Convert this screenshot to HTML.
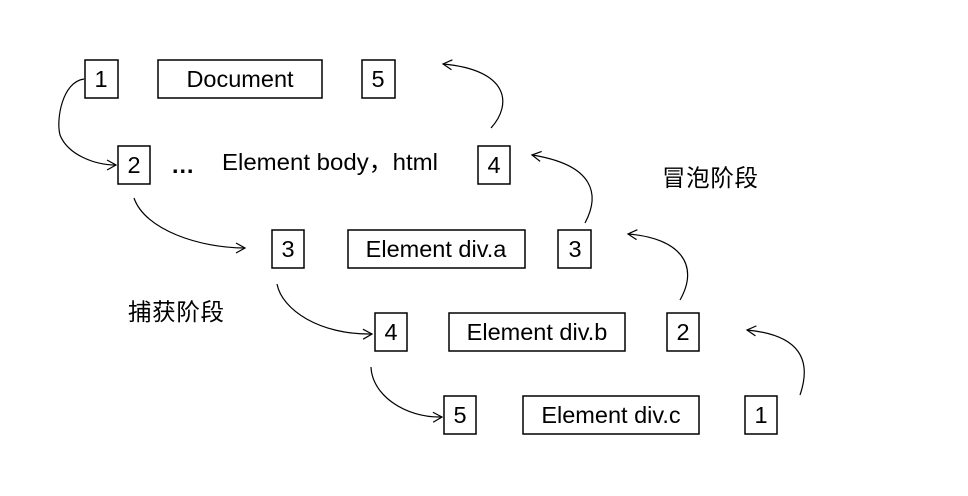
<!DOCTYPE html>
<html><head><meta charset="utf-8"><style>
body{margin:0;background:#fff;}
svg text{font-family:"Liberation Sans","Noto Sans CJK SC",sans-serif;font-size:23.5px;fill:#000;}
</style></head><body>
<svg width="968" height="491" viewBox="0 0 968 491" xmlns="http://www.w3.org/2000/svg">
<defs><marker id="a" markerWidth="12" markerHeight="12" refX="10" refY="6" orient="auto" markerUnits="userSpaceOnUse"><path d="M1,1 L10,6 L1,11" fill="none" stroke="#000" stroke-width="1.2"/></marker></defs>
<g fill="none" stroke="#000" stroke-width="1.5">
<rect x="85" y="60" width="33" height="38"/>
<rect x="158" y="60" width="164" height="38"/>
<rect x="362" y="60" width="33" height="38"/>
<rect x="118" y="146" width="32" height="38"/>
<rect x="478" y="146" width="32" height="38"/>
<rect x="272" y="230" width="32" height="38"/>
<rect x="348" y="230" width="177" height="38"/>
<rect x="558" y="230" width="33" height="38"/>
<rect x="375" y="313" width="32" height="38"/>
<rect x="449" y="313" width="176" height="38"/>
<rect x="667" y="313" width="32" height="38"/>
<rect x="444" y="396" width="32" height="38"/>
<rect x="523" y="396" width="176" height="38"/>
<rect x="745" y="396" width="32" height="38"/>
</g>
<g fill="none" stroke="#000" stroke-width="1.2" marker-end="url(#a)">
<path d="M84,79 C62,82 56,120 60,135 C68,155 95,165 116,165"/>
<path d="M134,198 C145,230 200,248 245,248"/>
<path d="M277,284 C282,310 320,335 372,334"/>
<path d="M371,367 C372,395 405,418 442,417"/>
<path d="M800,395 C812,360 800,335 747,330"/>
<path d="M680,300 C700,265 680,238 628,234"/>
<path d="M585,223 C600,195 595,165 532,155"/>
<path d="M491,128 C512,105 510,70 443,64"/>
</g>
<text x="101" y="87" text-anchor="middle">1</text>
<text x="240" y="87" text-anchor="middle">Document</text>
<text x="378" y="87" text-anchor="middle">5</text>
<text x="134" y="173" text-anchor="middle">2</text>
<text x="171" y="173" style="font-weight:bold">…</text>
<text x="222" y="170" textLength="216" lengthAdjust="spacingAndGlyphs">Element body，html</text>
<text x="494" y="173" text-anchor="middle">4</text>
<text x="662" y="186" textLength="96">冒泡阶段</text>
<text x="288" y="257" text-anchor="middle">3</text>
<text x="436" y="257" text-anchor="middle">Element div.a</text>
<text x="575" y="257" text-anchor="middle">3</text>
<text x="128" y="320" textLength="96">捕获阶段</text>
<text x="391" y="340" text-anchor="middle">4</text>
<text x="537" y="340" text-anchor="middle">Element div.b</text>
<text x="683" y="340" text-anchor="middle">2</text>
<text x="460" y="423" text-anchor="middle">5</text>
<text x="611" y="423" text-anchor="middle">Element div.c</text>
<text x="761" y="423" text-anchor="middle">1</text>
</svg>
</body></html>
